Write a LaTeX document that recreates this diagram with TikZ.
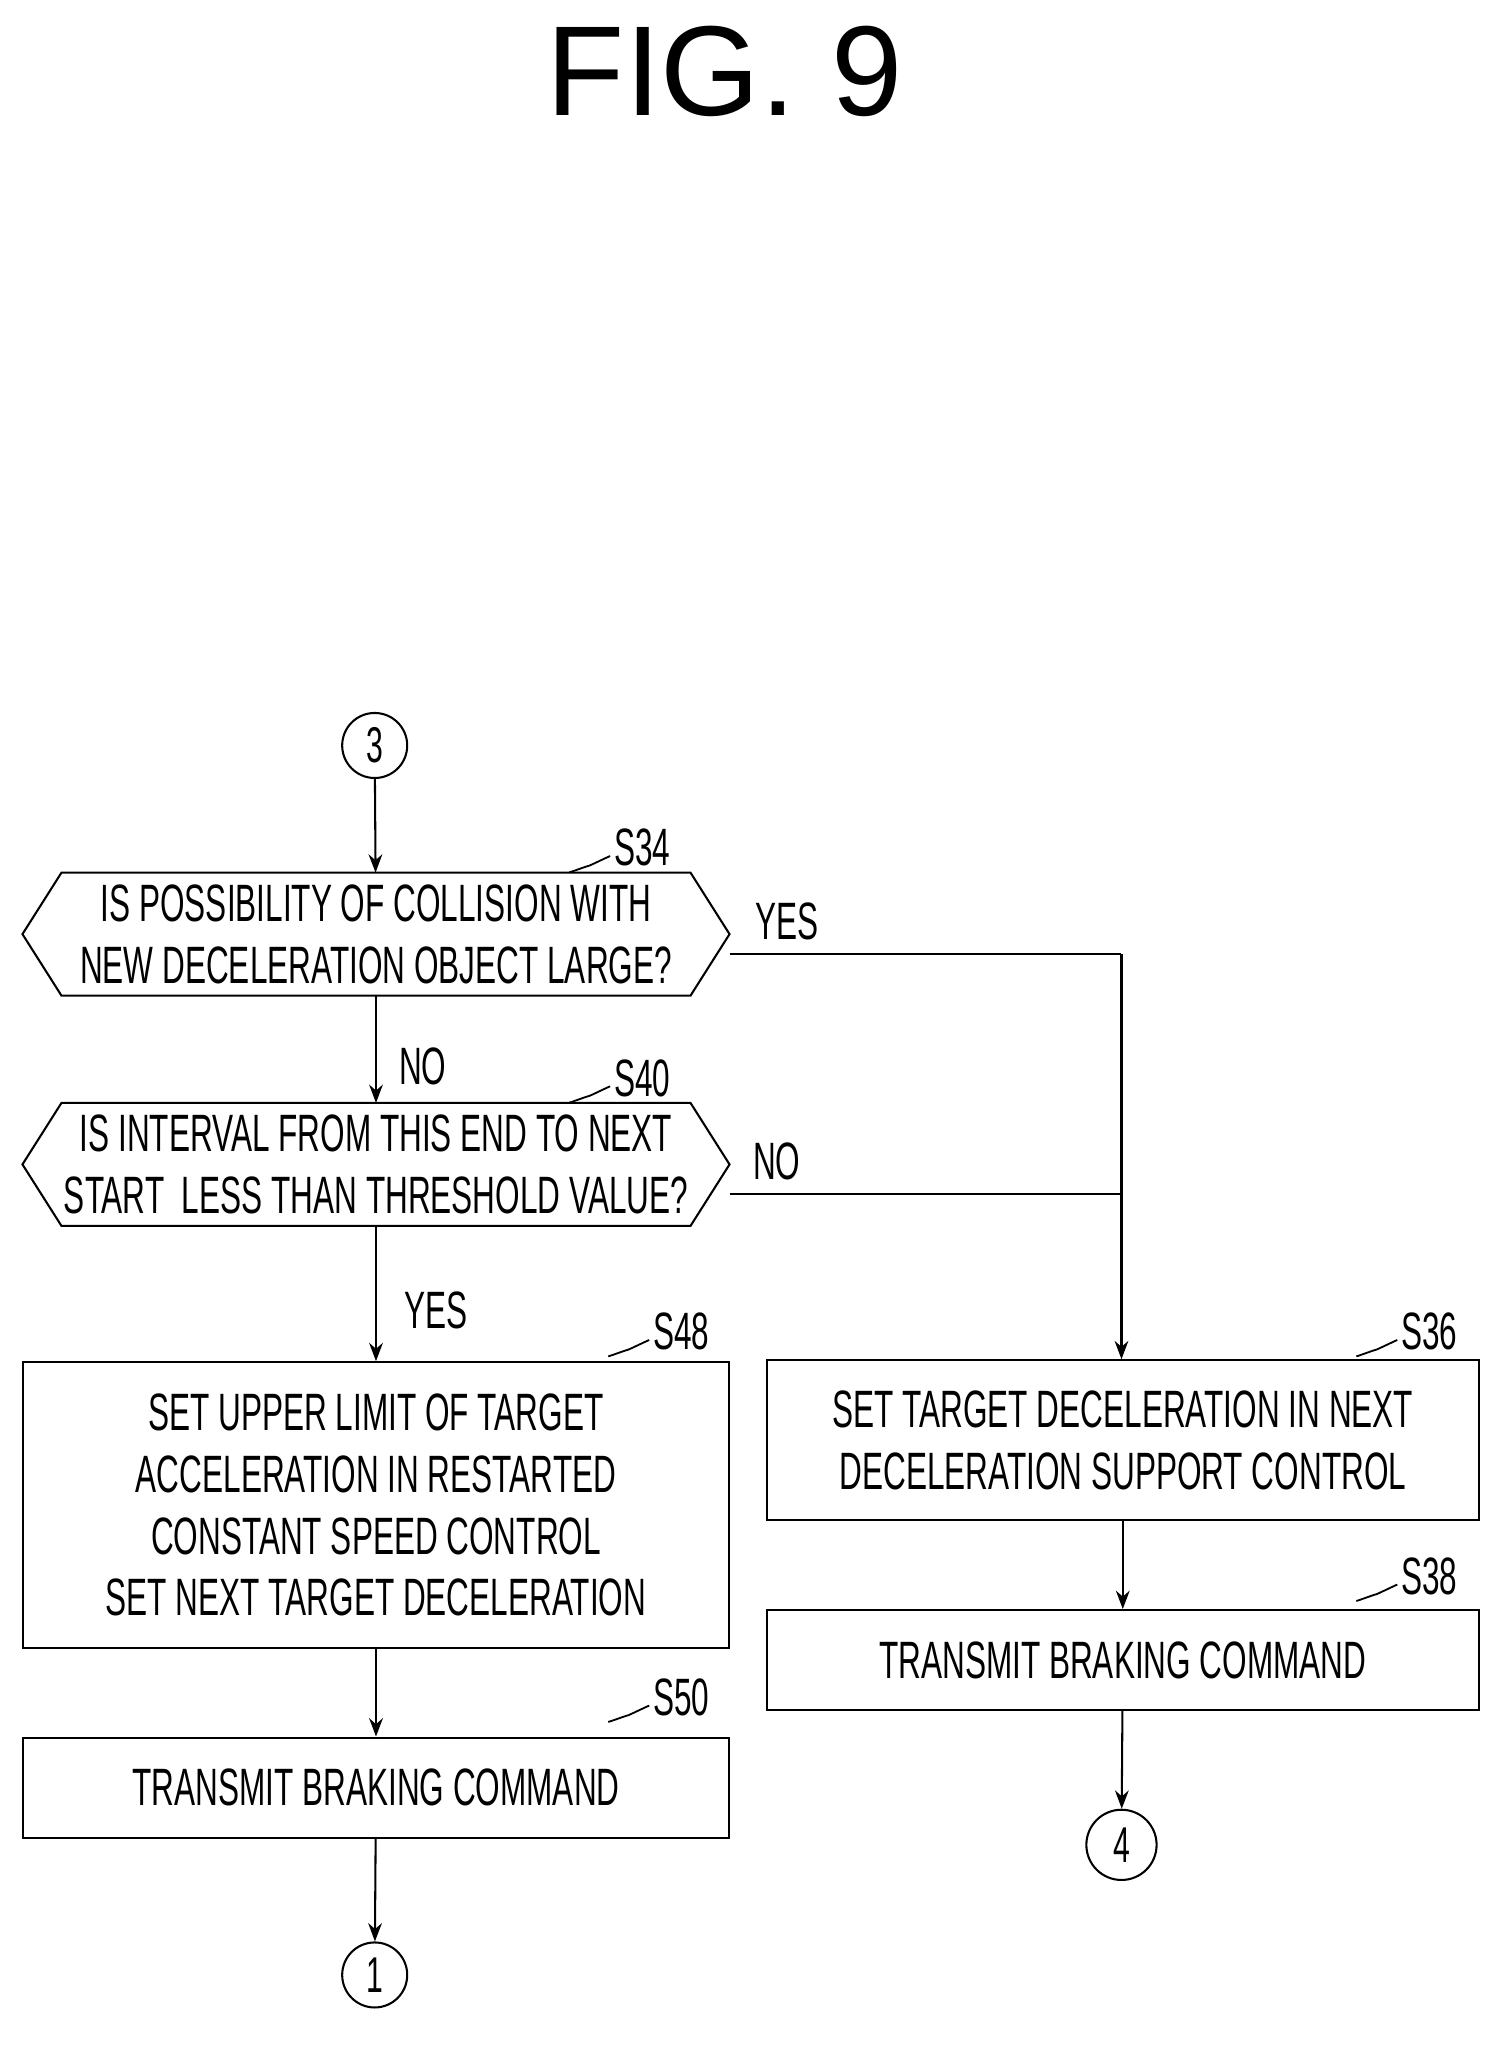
\documentclass[tikz,border=0pt]{standalone}
\usepackage{fontspec}
\setmainfont{Liberation Sans}[FakeStretch=0.6]
\newfontfamily\titlefont{Liberation Sans}
\usetikzlibrary{arrows.meta,positioning}

\tikzset{
  box/.style={draw, line width=0.9pt, align=center, inner sep=0pt, font=\fontsize{23}{27}\selectfont},
  dec/.style={box, draw=none},
  conn/.style={draw, circle, line width=0.9pt, minimum size=1cm, inner sep=0pt, font=\fontsize{22}{22}\selectfont},
  flow/.style={line width=0.9pt, -{Stealth[length=8pt,width=6pt]}},
  lbl/.style={font=\fontsize{23}{23}\selectfont},
  stepno/.style={font=\fontsize{23}{23}\selectfont, anchor=south west, inner sep=1pt}
}
% hexagon drawn round a decision node
\newcommand{\hexa}[1]{%
  \draw[line width=0.9pt] ([xshift=0.6cm]#1.north west) -- ([xshift=-0.6cm]#1.north east) -- (#1.east)
    -- ([xshift=-0.6cm]#1.south east) -- ([xshift=0.6cm]#1.south west) -- (#1.west) -- cycle;}
% step number with wavy leader
\newcommand{\steplbl}[3]{%
  \node[stepno] (#3) at (#1) {#2};
  \draw[line width=0.8pt] ([xshift=-0.65cm,yshift=-0.05cm]#3.south west)
    .. controls ++(0.2,0.25) and ++(-0.15,-0.25) .. ([xshift=-0.35cm,yshift=0.05cm]#3.south west)
    .. controls ++(0.15,0.25) and ++(-0.2,-0.2) .. ([xshift=-0.02cm,yshift=0.2cm]#3.south west);}

\begin{document}
\begin{tikzpicture}[x=0.02cm,y=-0.02cm]
  \useasboundingbox (0,0) rectangle (1159,1578);
  \node[font=\titlefont\fontsize{56}{56}\selectfont] (title) at (557,55) {FIG. 9};

  \node[conn] (c3) at (288,573) {3};

  \node[dec, minimum width=10.84cm, minimum height=1.86cm] (s34) at (289,718)
    {IS POSSIBILITY OF COLLISION WITH\\NEW DECELERATION OBJECT LARGE?};
  \hexa{s34}
  \steplbl{470,668}{S34}{l34}

  \node[dec, minimum width=10.84cm, minimum height=1.86cm] (s40) at (289,895)
    {IS INTERVAL FROM THIS END TO NEXT\\START\ \ LESS THAN THRESHOLD VALUE?};
  \hexa{s40}
  \steplbl{470,845}{S40}{l40}

  \node[box, minimum width=10.86cm, minimum height=4.4cm] (s48) at (289,1157)
    {SET UPPER LIMIT OF TARGET\\ACCELERATION IN RESTARTED\\CONSTANT SPEED CONTROL\\SET NEXT TARGET DECELERATION};
  \steplbl{500,1040}{S48}{l48}

  \node[box, minimum width=10.86cm, minimum height=1.54cm] (s50) at (289,1374)
    {TRANSMIT BRAKING COMMAND};
  \steplbl{500,1321}{S50}{l50}

  \node[conn] (c1) at (288,1518) {1};

  \node[box, minimum width=10.94cm, minimum height=2.46cm] (s36) at (863,1107)
    {SET TARGET DECELERATION IN NEXT\\DECELERATION SUPPORT CONTROL};
  \steplbl{1075,1040}{S36}{l36}

  \node[box, minimum width=10.94cm, minimum height=1.54cm] (s38) at (863,1276)
    {TRANSMIT BRAKING COMMAND};
  \steplbl{1075,1228}{S38}{l38}

  \node[conn, minimum size=1.08cm] (c4) at (862,1418) {4};

  \coordinate (j34) at (862,733);
  \coordinate (j40) at (862,918);

  \draw[flow] (c3) -- (s34);
  \draw[flow] (s34) -- (s40);
  \draw[flow] (s40) -- (s48);
  \draw[flow] (s48) -- (s50);
  \draw[flow] (s50) -- (c1);
  \draw[line width=0.9pt] (s34.east |- j34) -- (j34);
  \draw[line width=0.9pt] (s40.east |- j40) -- (j40);
  \draw[flow] (j34) -- (s36.north -| j34);
  \draw[flow] (s36) -- (s38);
  \draw[flow] (s38) -- (c4);

  \node[lbl] (y34) at (605,708) {YES};
  \node[lbl] (n34) at (325,820) {NO};
  \node[lbl] (n40) at (597,893) {NO};
  \node[lbl] (y40) at (335,1007) {YES};
\end{tikzpicture}
\end{document}
